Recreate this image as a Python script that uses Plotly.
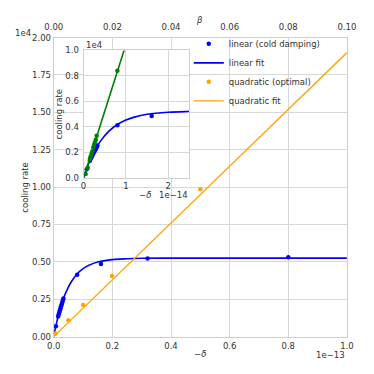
import plotly.graph_objects as go

# main panel: -delta in units of 1e-13, cooling rate in units of 1e4
lin_x = [0.0075, 0.015, 0.017, 0.019, 0.021, 0.023, 0.025, 0.027, 0.029, 0.031, 0.033, 0.080, 0.161, 0.32, 0.80]
lin_y = [0.069, 0.135, 0.150, 0.163, 0.176, 0.190, 0.203, 0.215, 0.228, 0.241, 0.254, 0.413, 0.486, 0.522, 0.530]

linfit_x = [0.0, 0.005, 0.01, 0.015, 0.02, 0.03, 0.04, 0.06, 0.08, 0.10, 0.12, 0.15, 0.20, 0.25, 0.30, 0.40, 0.60, 1.0]
linfit_y = [0.0, 0.050, 0.095, 0.136, 0.172, 0.237, 0.289, 0.367, 0.419, 0.454, 0.477, 0.499, 0.515, 0.521, 0.524, 0.525, 0.525, 0.525]

quad_x = [0.006, 0.050, 0.100, 0.199, 0.500]
quad_y = [0.020, 0.109, 0.211, 0.406, 0.985]

quadfit_x = [0.0, 1.0]
quadfit_y = [0.0, 1.9]

# inset: -delta in units of 1e-14 (green = quadratic, zoomed)
inset_lin_x = [x * 10 for x in lin_x]
inset_fit_x = [x * 10 for x in linfit_x]
green_x = [0.05, 0.10, 0.15, 0.17, 0.19, 0.21, 0.23, 0.25, 0.27, 0.29, 0.31, 0.80]
green_y = [0.03, 0.08, 0.15, 0.17, 0.19, 0.21, 0.24, 0.26, 0.28, 0.30, 0.33, 0.84]
greenfit_x = [0.0, 1.0]
greenfit_y = [0.0, 1.045]

beta_ticks = [0.0, 0.02, 0.04, 0.06, 0.08, 0.10]

W = 374
FONT = "DejaVu Sans"
TXT = "#333333"
GRID = "#d8d8d8"
FS = 8.5

main_dx = [47 / W, 355 / W]
main_dy = [1 - 340.7 / W, 1 - 33.5 / W]
ins_dx = [78.3 / W, 189.5 / W]
ins_dy = [1 - 177.7 / W, 1 - 46.7 / W]
main_xr = [0, 1]
main_yr = [0, 2]

fig = go.Figure()

fig.add_trace(go.Scatter(x=lin_x, y=lin_y, mode="markers", name="linear (cold damping)",
                         marker=dict(color="blue", size=4.5)))
fig.add_trace(go.Scatter(x=linfit_x, y=linfit_y, mode="lines", name="linear fit",
                         line=dict(color="blue", width=1.6, shape="spline")))
fig.add_trace(go.Scatter(x=quad_x, y=quad_y, mode="markers", name="quadratic (optimal)",
                         marker=dict(color="orange", size=4.5)))
fig.add_trace(go.Scatter(x=quadfit_x, y=quadfit_y, mode="lines", name="quadratic fit",
                         line=dict(color="orange", width=1.3)))
# dummy trace so the beta axis gets drawn
fig.add_trace(go.Scatter(x=[0, 0.1], y=[None, None], xaxis="x2", yaxis="y",
                         showlegend=False, hoverinfo="skip"))

# inset
fig.add_trace(go.Scatter(x=inset_fit_x, y=linfit_y, mode="lines", xaxis="x3", yaxis="y3",
                         line=dict(color="blue", width=1.6, shape="spline"), showlegend=False))
fig.add_trace(go.Scatter(x=inset_lin_x, y=lin_y, mode="markers", xaxis="x3", yaxis="y3",
                         marker=dict(color="blue", size=4.5), showlegend=False))
fig.add_trace(go.Scatter(x=greenfit_x, y=greenfit_y, mode="lines", xaxis="x3", yaxis="y3",
                         line=dict(color="green", width=1.6), showlegend=False))
fig.add_trace(go.Scatter(x=green_x, y=green_y, mode="markers", xaxis="x3", yaxis="y3",
                         marker=dict(color="green", size=4.5), showlegend=False))

ax = dict(showgrid=True, gridcolor=GRID, gridwidth=1, zeroline=False, showline=True,
          linecolor="#cfcfcf", linewidth=1, mirror=True, ticks="",
          tickfont=dict(family=FONT, size=FS, color=TXT))

fig.update_layout(
    width=W, height=W,
    margin=dict(l=0, r=0, t=0, b=0),
    paper_bgcolor="white", plot_bgcolor="white",
    font=dict(family=FONT, size=FS, color=TXT),
    xaxis=dict(ax, domain=main_dx, anchor="y", range=main_xr, dtick=0.2, tickformat=".1f",
               ticklabelstandoff=1),
    yaxis=dict(ax, domain=main_dy, anchor="x", range=main_yr, dtick=0.25, tickformat=".2f"),
    xaxis2=dict(ax, overlaying="x", side="top", anchor="y", range=[0, 0.1],
                tickvals=beta_ticks, tickformat=".2f", showgrid=False, showline=False,
                ticklabelstandoff=5),
    xaxis3=dict(ax, domain=ins_dx, anchor="y3", range=[0, 2.5], dtick=1, tickformat="d"),
    yaxis3=dict(ax, domain=ins_dy, anchor="x3", range=[0, 1], dtick=0.2, tickformat=".1f",
                ticklabelstandoff=2),
    legend=dict(x=0.505, y=1 - 25 / W, xanchor="left", yanchor="top",
                bgcolor="rgba(0,0,0,0)", itemwidth=30,
                font=dict(family=FONT, size=FS, color=TXT)),
    showlegend=True,
)


# white background behind the inset, above the main grid (main data coords)
def to_x(p):
    return main_xr[0] + (p - main_dx[0]) / (main_dx[1] - main_dx[0]) * (main_xr[1] - main_xr[0])


def to_y(p):
    return main_yr[0] + (p - main_dy[0]) / (main_dy[1] - main_dy[0]) * (main_yr[1] - main_yr[0])


fig.add_shape(type="rect", xref="x", yref="y", x0=to_x(ins_dx[0]), x1=to_x(ins_dx[1]),
              y0=to_y(ins_dy[0]), y1=to_y(ins_dy[1]),
              fillcolor="white", line=dict(width=0), layer="between")


def note(text, x, y, xa="center", angle=0):
    fig.add_annotation(text=text, x=x / W, y=1 - y / W, xref="paper", yref="paper",
                       xanchor=xa, yanchor="middle", showarrow=False, textangle=angle,
                       font=dict(family=FONT, size=FS, color=TXT))


note("1e4", 15, 29)
note("<i>β</i>", 200, 15)
note("cooling rate", 16.5, 187, angle=-90)
note("−<i>δ</i>", 201, 359)
note("1e−13", 355, 359.5, xa="right")
note("1e4", 79, 41, xa="left")
note("cooling rate", 53, 112, angle=-90)
note("−<i>δ</i>", 143, 195)
note("1e−14", 190, 195, xa="right")

fig.write_html("out.html", config={"displayModeBar": False},
               post_script="document.body.style.margin='0';")
